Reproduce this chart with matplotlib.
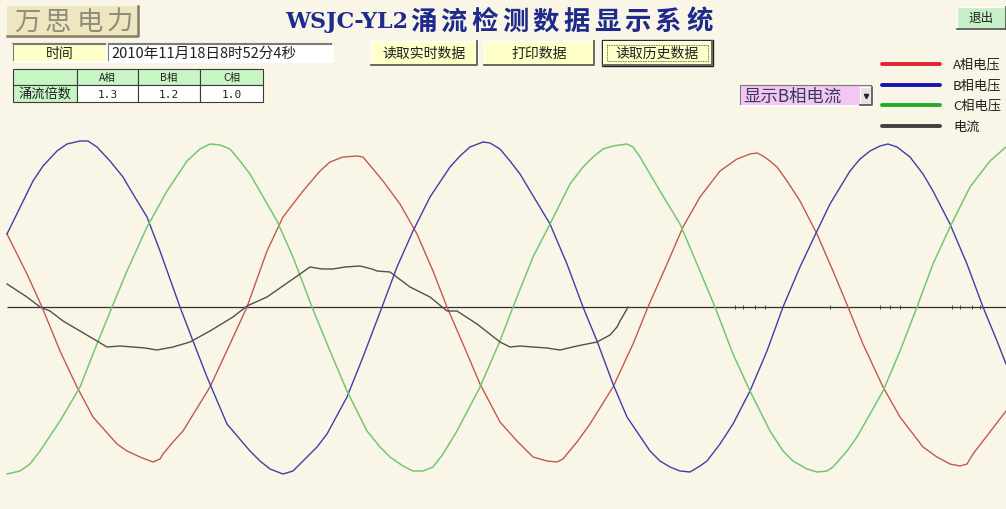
import numpy as np
import matplotlib.pyplot as plt
from matplotlib.patches import Rectangle

plt.rcParams['font.family'] = ['Noto Sans CJK SC', 'DejaVu Sans']

BG = '#faf6e7'

# 采样点序号与采样值（零线以上为正）
t_a = [0, 20, 35, 53, 70, 86, 110, 120, 133, 146, 153, 156, 166, 176, 203, 223, 240, 260, 276, 296,
       313, 323, 336, 350, 356, 366, 376, 393, 410, 426, 440, 456, 473, 493, 510, 526, 540, 550, 556, 560,
       570, 583, 606, 626, 641, 660, 676, 693, 713, 730, 743, 750, 756, 763, 770, 780, 793, 810, 826, 841,
       856, 876, 893, 916, 930, 943, 953, 960, 966, 976, 999]
u_a = [73, 33, 0, -44, -80, -110, -137, -144, -150, -155, -152, -147, -135, -124, -80, -37, 0, 56, 90, 116,
       136, 145, 150, 151, 150, 138, 126, 103, 73, 36, 0, -37, -77, -115, -134, -150, -154, -155, -152, -147,
       -135, -117, -80, -37, 0, 43, 80, 110, 136, 148, 153, 154, 151, 146, 140, 126, 106, 73, 36, 0,
       -37, -80, -110, -140, -150, -157, -159, -157, -147, -134, -104]

t_b = [0, 26, 36, 50, 60, 73, 81, 90, 103, 116, 126, 140, 153, 173, 186, 200, 220, 243, 253, 263,
       276, 286, 296, 310, 320, 340, 356, 375, 390, 406, 423, 443, 453, 463, 476, 483, 493, 503, 513, 543,
       560, 576, 590, 606, 620, 643, 653, 663, 673, 683, 693, 700, 713, 726, 743, 760, 776, 793, 810, 823,
       843, 853, 863, 873, 881, 890, 903, 916, 926, 943, 960, 976, 990, 999]
u_b = [73, 126, 141, 156, 163, 166, 166, 160, 146, 130, 113, 90, 56, 0, -34, -70, -117, -144, -154, -162,
       -167, -164, -154, -140, -127, -90, -50, 0, 40, 76, 110, 140, 151, 160, 165, 164, 158, 146, 133, 83,
       43, 0, -34, -77, -110, -144, -154, -160, -164, -165, -159, -154, -137, -117, -84, -44, 0, 40, 76, 103,
       136, 148, 156, 161, 163, 160, 150, 133, 116, 83, 43, 0, -34, -57]

t_c = [0, 13, 23, 33, 53, 73, 90, 105, 120, 140, 160, 180, 193, 203, 213, 223, 233, 243, 270, 286,
       305, 323, 340, 360, 373, 383, 396, 406, 416, 426, 436, 450, 473, 493, 506, 526, 543, 563, 576, 586,
       596, 606, 620, 626, 633, 643, 653, 673, 690, 708, 726, 743, 753, 763, 776, 786, 800, 810, 820, 826,
       840, 850, 876, 893, 910, 926, 943, 963, 983, 999]
u_c = [-167, -164, -157, -144, -114, -80, -37, 0, 36, 80, 116, 146, 158, 163, 162, 158, 146, 133, 86, 50,
       0, -44, -84, -124, -140, -150, -159, -164, -164, -160, -147, -124, -80, -34, 0, 50, 83, 123, 140, 150,
       158, 161, 163, 160, 150, 133, 116, 83, 43, 0, -47, -84, -104, -124, -144, -154, -162, -165, -164, -160,
       -144, -130, -84, -44, 0, 43, 80, 120, 146, 160]

t_i = [0, 20, 33, 43, 56, 73, 90, 100, 113, 126, 138, 150, 166, 183, 203, 226, 240, 260, 283, 303,
       315, 326, 338, 353, 365, 370, 383, 403, 423, 440, 450, 470, 493, 503, 513, 526, 540, 553, 570, 590,
       603, 610, 613, 616, 621]
i_b = [23, 10, 0, -4, -14, -24, -34, -40, -39, -40, -41, -43, -40, -35, -24, -10, 1, 10, 26, 40,
       38, 38, 40, 41, 38, 36, 35, 20, 10, -4, -4, -17, -35, -40, -39, -40, -41, -43, -39, -35,
       -28, -20, -14, -9, 0]
# 电流结束后零线上的零星毛刺
t_noise = [728, 736, 748, 758, 823, 873, 883, 893, 945, 953, 965, 973]

phases = ['A相', 'B相', 'C相']
ratios = [1.3, 1.2, 1.0]
legend_labels = ['A相电压', 'B相电压', 'C相电压', '电流']
legend_colors = ['#e3262a', '#1414b4', '#22aa2a', '#404040']
buttons = ['读取实时数据', '打印数据', '读取历史数据']
rec_time = '2010年11月18日8时52分4秒'


def panel(ax, x0, y0, x1, y1, face, style='raised', lw=0.8):
    ax.add_patch(Rectangle((x0, y0), x1 - x0, y1 - y0, facecolor=face, edgecolor='none'))
    if style == 'raised':
        lt, dk = '#ffffff', '#5a5a5a'
    else:
        lt, dk = '#7a7a7a', '#ffffff'
    ax.plot([x0, x0, x1], [y1, y0, y0], color=lt, lw=lw)
    ax.plot([x0, x1, x1], [y1, y1, y0], color=dk, lw=lw * 1.6)


fig = plt.figure(figsize=(10.06, 5.10), dpi=100)
fig.patch.set_facecolor(BG)

# 波形区
ax = fig.add_axes([0, 0, 1, 1])
ax.set_xlim(-7, 999)
ax.set_ylim(-202, 308)
ax.axis('off')
ax.hlines(0, 0, 999, color='#303030', lw=0.9)
ax.plot(t_a, u_a, color='#c25a4e', lw=1.0)
ax.plot(t_b, u_b, color='#3e3ea8', lw=1.0)
ax.plot(t_c, u_c, color='#72c872', lw=1.1)
ax.plot(t_i, i_b, color='#505050', lw=1.0)
ax.plot(t_noise, np.zeros(len(t_noise)), ls='none', marker='|', ms=2.5, mew=0.7, color='#404040')

# 界面控件（像素坐标）
ui = fig.add_axes([0, 0, 1, 1], zorder=3)
ui.set_xlim(0, 1006)
ui.set_ylim(510, 0)
ui.axis('off')

# 公司标志
ui.add_patch(Rectangle((7, 7), 131, 30, facecolor='#eee6bf', edgecolor='none'))
ui.plot([138, 138, 7], [7, 37, 37], color='#857c68', lw=1.8)
for xc, ch in zip([27, 58, 90, 120], '万思电力'):
    ui.text(xc, 22, ch, fontsize=19, color='#918b7c', ha='center', va='center')

# 标题
ui.text(285, 22, 'WSJC-YL2', fontsize=16, fontweight='bold', family='DejaVu Serif',
        color='#1e2a8c', ha='left', va='center')
for k, ch in enumerate('涌流检测数据显示系统'):
    ui.text(423 + k * 30.7, 22, ch, fontsize=19, fontweight='bold', color='#1e2a8c',
            ha='center', va='center')

# 退出按钮
panel(ui, 957, 8, 1006, 30, '#c8f0c8')
ui.text(981, 18, '退出', fontsize=9, color='#202020', ha='center', va='center')

# 时间
ui.plot([12, 333], [44, 44], color='#7a7a7a', lw=0.8)
panel(ui, 13, 45, 107, 63, '#ffffc8', style='sunken')
panel(ui, 108, 45, 333, 63, '#ffffff', style='sunken')
ui.text(60, 54, '时间', fontsize=10, color='#202020', ha='center', va='center')
ui.text(111, 54, rec_time, fontsize=10.5, color='#202020', ha='left', va='center')

# 涌流倍数表
col_x = [13, 77, 138, 200, 263]
row_y = [70, 86, 103]
green = '#c8f5c4'
for c in range(4):
    for r in range(2):
        face = green if (r == 0 or c == 0) else '#ffffff'
        ui.add_patch(Rectangle((col_x[c], row_y[r]), col_x[c + 1] - col_x[c], row_y[r + 1] - row_y[r],
                               facecolor=face, edgecolor='#3a3a3a', lw=0.8))
for c, (ph, v) in enumerate(zip(phases, ratios)):
    xc = (col_x[c + 1] + col_x[c + 2]) / 2
    ui.text(xc, 78, ph, fontsize=7.5, color='#202020', ha='center', va='center')
    ui.text(xc, 94.5, f'{v:.1f}', fontsize=8, family='DejaVu Sans Mono', color='#202020',
            ha='center', va='center')
ui.text((col_x[0] + col_x[1]) / 2, 94.5, '涌流倍数', fontsize=9.5, color='#202020',
        ha='center', va='center')

# 按钮
btn_x = [(371, 477), (484, 594), (603, 712)]
for (x0, x1), name in zip(btn_x, buttons):
    panel(ui, x0, 42, x1, 66, '#ffffc8')
    ui.text((x0 + x1) / 2, 54, name, fontsize=10, color='#202020', ha='center', va='center')
x0, x1 = btn_x[2]
ui.add_patch(Rectangle((x0 - 1, 41), x1 - x0 + 2, 26, facecolor='none', edgecolor='#202020', lw=1.0))
ui.add_patch(Rectangle((x0 + 4, 46), x1 - x0 - 8, 16, facecolor='none', edgecolor='#404040',
                       lw=0.6, ls=(0, (1, 1))))

# 下拉框
panel(ui, 740, 86, 873, 107, '#f2c8f2', style='sunken')
panel(ui, 860, 88, 872, 106, '#e4e4e4')
ui.plot([866], [97], marker='v', ms=3, color='#202020')
ui.text(743, 96.5, '显示B相电流', fontsize=12.5, color='#3a3a5c', ha='left', va='center')

# 图例
for k, (lab, col) in enumerate(zip(legend_labels, legend_colors)):
    y = 65 + k * 20.7
    ui.plot([882, 940], [y, y], color=col, lw=2.8, solid_capstyle='round')
    ui.text(953, y, lab, fontsize=9.5, color='#202020', ha='left', va='center')

fig.savefig('out.png', dpi=100, facecolor=BG)
